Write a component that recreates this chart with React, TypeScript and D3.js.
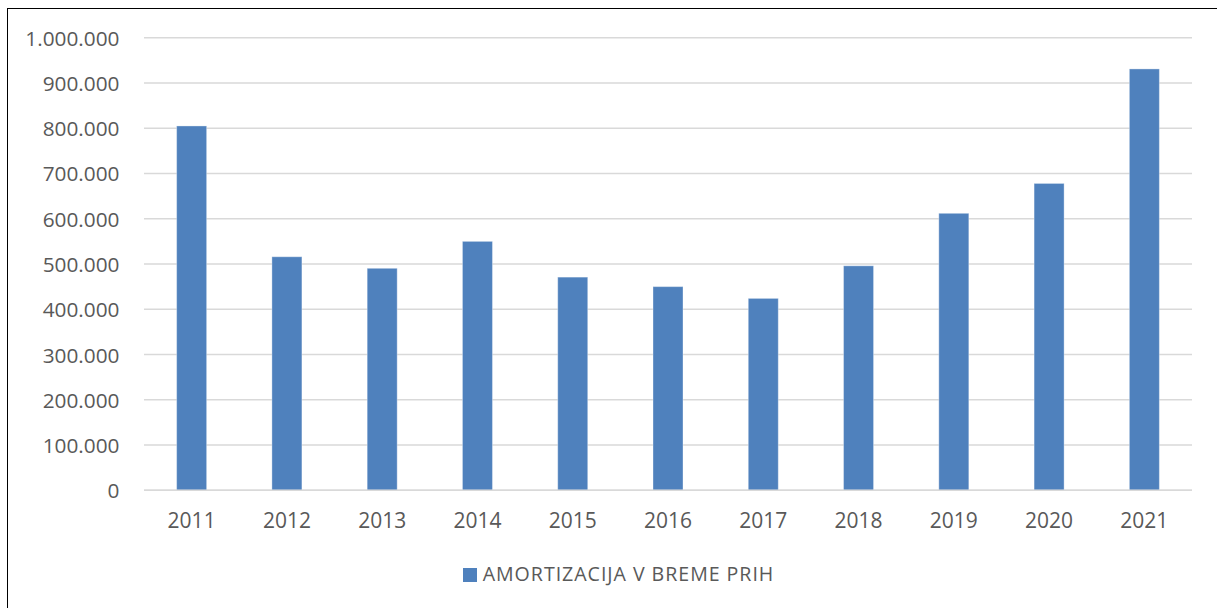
import React from "react";
import * as d3 from "d3";

const years = ["2011","2012","2013","2014","2015","2016","2017","2018","2019","2020","2021"];
const amortizacija = [805000, 516000, 490500, 550000, 471000, 450000, 424000, 496000, 612000, 678000, 931000];
const yTicks = [0, 100000, 200000, 300000, 400000, 500000, 600000, 700000, 800000, 900000, 1000000];
const seriesName = "AMORTIZACIJA V BREME PRIH";

const W = 1217, H = 608;
const plot = { left: 144, right: 1192, top: 37.7, bottom: 490.3 };
const font = "'Open Sans', 'Liberation Sans', sans-serif";
const textColor = "#595959";
const barColor = "#4F81BD";

const fmt = (v: number) => (v === 0 ? "0" : d3.format(",")(v).replace(/,/g, "."));

export default function App() {
  const x = d3.scaleBand<string>().domain(years).range([plot.left, plot.right]).paddingInner(0.685).paddingOuter(0.3425);
  const y = d3.scaleLinear().domain([0, 1000000]).range([plot.bottom, plot.top]);
  return (
    <svg width={W} height={H} style={{ position: "absolute", left: 0, top: 0, background: "#fff" }}>
      <rect x={7.5} y={8.5} width={W + 10} height={H + 10} fill="#fff" stroke="#000" strokeWidth={1} />
      {yTicks.map((t) => (
        <g key={t}>
          <line x1={plot.left} x2={plot.right} y1={y(t)} y2={y(t)} stroke="#D9D9D9" strokeWidth={1.5} />
          <text x={119.5} y={y(t) + 8} textAnchor="end" fontFamily={font} fontSize={20.8} fill={textColor}>
            {fmt(t)}
          </text>
        </g>
      ))}
      {years.map((yr, i) => (
        <rect
          key={yr}
          x={x(yr)!}
          y={y(amortizacija[i])}
          width={x.bandwidth()}
          height={plot.bottom - y(amortizacija[i])}
          fill={barColor}
          stroke="#ffffff"
          strokeOpacity={0.35}
          strokeWidth={1}
        />
      ))}
      <line x1={plot.left} x2={plot.right} y1={plot.bottom} y2={plot.bottom} stroke="#D9D9D9" strokeWidth={1.5} />
      {years.map((yr) => (
        <text key={yr} x={x(yr)! + x.bandwidth() / 2} y={528.3} textAnchor="middle" fontFamily={font} fontSize={21} fill={textColor}>
          {yr}
        </text>
      ))}
      <rect x={463} y={568} width={14} height={14} fill={barColor} />
      <text x={482.7} y={580.7} fontFamily={font} fontSize={19.6} fill={textColor} textLength={290.6} lengthAdjust="spacing">
        {seriesName}
      </text>
    </svg>
  );
}
